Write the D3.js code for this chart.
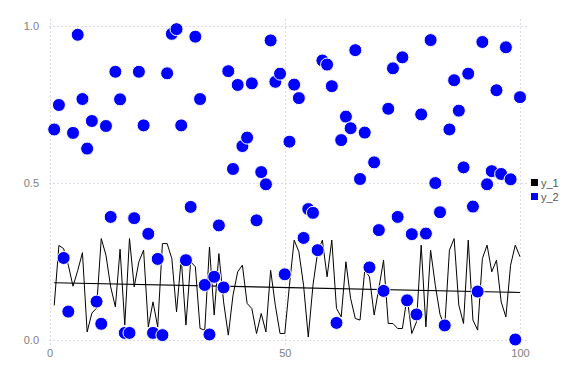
<!DOCTYPE html>
<html>
<head>
<meta charset="utf-8">
<script src="https://cdn.jsdelivr.net/npm/d3@7"></script>
<style>
  body { margin: 0; background: #fff; }
  svg { display: block; font-family: "Liberation Sans", Arial, sans-serif; }
</style>
</head>
<body>
<svg id="chart" width="576" height="384"></svg>
<script>
// Data
// ----
const xs = d3.range(1, 101);

const y1 = [
  0.109, 0.300, 0.290, 0.237, 0.170, 0.220, 0.277, 0.024, 0.084, 0.100,
  0.322, 0.269, 0.168, 0.104, 0.288, 0.046, 0.322, 0.168, 0.248, 0.285,
  0.040, 0.120, 0.040, 0.306, 0.306, 0.258, 0.088, 0.258, 0.046, 0.248,
  0.232, 0.035, 0.030, 0.295, 0.078, 0.274, 0.120, 0.014, 0.141, 0.216,
  0.237, 0.115, 0.099, 0.019, 0.083, 0.024, 0.221, 0.109, 0.019, 0.019,
  0.173, 0.317, 0.280, 0.173, 0.008, 0.173, 0.280, 0.317, 0.200, 0.317,
  0.099, 0.072, 0.248, 0.131, 0.067, 0.062, 0.221, 0.200, 0.078, 0.163,
  0.253, 0.051, 0.051, 0.035, 0.035, 0.136, 0.019, 0.056, 0.301, 0.040,
  0.285, 0.173, 0.080, 0.040, 0.285, 0.322, 0.109, 0.051, 0.317, 0.062,
  0.030, 0.258, 0.301, 0.216, 0.253, 0.120, 0.072, 0.237, 0.301, 0.264
];

const y2 = [
  0.670, 0.748, 0.260, 0.089, 0.659, 0.972, 0.767, 0.609, 0.697, 0.121,
  0.050, 0.681, 0.391, 0.854, 0.766, 0.021, 0.021, 0.387, 0.854, 0.683,
  0.337, 0.021, 0.257, 0.014, 0.849, 0.975, 0.990, 0.683, 0.253, 0.423,
  0.966, 0.767, 0.174, 0.016, 0.200, 0.364, 0.166, 0.856, 0.544, 0.812,
  0.617, 0.644, 0.817, 0.380, 0.534, 0.495, 0.954, 0.822, 0.848, 0.208,
  0.631, 0.813, 0.770, 0.324, 0.416, 0.404, 0.285, 0.890, 0.877, 0.808,
  0.053, 0.636, 0.711, 0.674, 0.923, 0.512, 0.660, 0.230, 0.565, 0.349,
  0.155, 0.736, 0.865, 0.391, 0.900, 0.125, 0.336, 0.080, 0.718, 0.338,
  0.955, 0.499, 0.406, 0.045, 0.670, 0.827, 0.730, 0.549, 0.848, 0.424,
  0.153, 0.949, 0.495, 0.537, 0.795, 0.528, 0.932, 0.511, 0.000, 0.773
];

// fitted trend of y_1 (endpoints)
const trendX = [1, 100];
const trendY = [0.181, 0.150];

const xTicks = [0, 50, 100];
const yTicks = [0, 0.5, 1.0];
const seriesNames = ["y_1", "y_2"];
const seriesColors = ["#000000", "#0000ff"];

// Layout
// ------
const svg = d3.select("#chart");
const x = d3.scaleLinear().domain([0, 100]).range([49.5, 520]);
const y = d3.scaleLinear().domain([0, 1]).range([339.5, 26]);
const gridX = [49, 527];
const gridY = [19, 346];

// Grid
const grid = svg.append("g")
  .attr("stroke", "#dcdce8")
  .attr("stroke-width", 1)
  .attr("stroke-dasharray", "2,2");

grid.selectAll(".h").data(yTicks).join("line")
  .attr("x1", gridX[0]).attr("x2", gridX[1])
  .attr("y1", d => Math.round(y(d)) + 0.5).attr("y2", d => Math.round(y(d)) + 0.5);

grid.selectAll(".v").data(xTicks).join("line")
  .attr("y1", gridY[0]).attr("y2", gridY[1])
  .attr("x1", d => Math.round(x(d)) + 0.5).attr("x2", d => Math.round(x(d)) + 0.5);

// Axes labels
const yAxis = d3.axisLeft(y).tickValues(yTicks).tickFormat(d3.format(".1f")).tickSize(0).tickPadding(0);
svg.append("g")
  .attr("transform", "translate(39,0)")
  .call(yAxis)
  .call(g => g.select(".domain").remove())
  .call(g => g.selectAll("text").attr("fill", "#808080").style("font-size", "11px").attr("font-family", null));

const xAxis = d3.axisBottom(x).tickValues(xTicks).tickFormat(d3.format("d")).tickSize(0).tickPadding(0);
svg.append("g")
  .attr("transform", "translate(0,349)")
  .call(xAxis)
  .call(g => g.select(".domain").remove())
  .call(g => g.selectAll("text").attr("fill", "#808080").style("font-size", "11px").attr("font-family", null));

// y_1 line
const pts1 = xs.map((d, i) => [d, y1[i]]);
svg.append("path")
  .datum(pts1)
  .attr("fill", "none")
  .attr("stroke", seriesColors[0])
  .attr("stroke-width", 1)
  .attr("d", d3.line().x(d => x(d[0])).y(d => y(d[1])));

// trend
svg.append("path")
  .datum(trendX.map((d, i) => [d, trendY[i]]))
  .attr("fill", "none")
  .attr("stroke", "#000")
  .attr("stroke-width", 1.2)
  .attr("d", d3.line().x(d => x(d[0])).y(d => y(d[1])));

// y_2 scatter
svg.append("g").selectAll("circle")
  .data(xs.map((d, i) => [d, y2[i]]))
  .join("circle")
  .attr("cx", d => x(d[0]))
  .attr("cy", d => y(d[1]))
  .attr("r", 6.5)
  .attr("fill", seriesColors[1])
  .attr("stroke", "#fff")
  .attr("stroke-width", 1);

// Legend
const legend = svg.append("g").attr("transform", "translate(531,183)");
const item = legend.selectAll("g").data(seriesNames).join("g")
  .attr("transform", (d, i) => `translate(0,${i * 14})`);
item.append("rect")
  .attr("x", 0).attr("y", -4).attr("width", 7).attr("height", 7)
  .attr("fill", (d, i) => seriesColors[i]);
item.append("text")
  .attr("x", 10).attr("y", 0).attr("dy", "0.35em")
  .attr("fill", "#555")
  .style("font-size", "11px")
  .text(d => d);
</script>
</body>
</html>
